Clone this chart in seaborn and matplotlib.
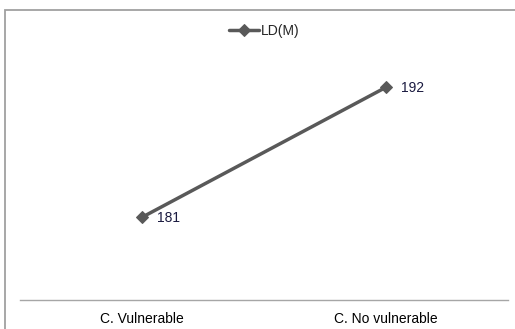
import matplotlib
matplotlib.use("Agg")
import matplotlib.pyplot as plt
import seaborn as sns
import pandas as pd
from matplotlib.patches import Rectangle

categories = ["C. Vulnerable", "C. No vulnerable"]
values = [181, 192]
series_name = "LD(M)"

sns.set_theme(style="white")
plt.rcParams['font.family'] = ['Liberation Sans', 'DejaVu Sans']

df = pd.DataFrame({"cat": categories, "val": values, "series": series_name})

fig = plt.figure(figsize=(5.15, 3.29), dpi=100)
ax = fig.add_axes([20/515, 1 - 300/329, 488/515, 260/329])

sns.lineplot(data=df, x="cat", y="val", hue="series", palette=["#595959"],
             marker="D", markersize=6, linewidth=2.5, markeredgecolor="#595959",
             ax=ax, sort=False)

ax.set_xlim(-0.5, 1.5)
ax.set_ylim(174, 196)
ax.set_xlabel("")
ax.set_ylabel("")
ax.set_yticks([])
ax.tick_params(axis="x", length=0, labelsize=10, colors="#000000", pad=8.5)
for s in ["top", "right", "left"]:
    ax.spines[s].set_visible(False)
ax.spines["bottom"].set_color("#a6a6a6")
ax.spines["bottom"].set_linewidth(1.0)

for i, v in enumerate(values):
    ax.annotate(str(v), (i, v), xytext=(11, -0.5), textcoords="offset points",
                ha="left", va="center", fontsize=10, color="#1a1a40")

leg = ax.legend(loc="center", bbox_to_anchor=(0.5, 1 + 9/260), frameon=False,
                fontsize=10, handlelength=2.2, handletextpad=0.1, borderaxespad=0)

fig.patches.append(Rectangle((5/515, -0.1), 1.2, 1 - 10/329 + 0.1, transform=fig.transFigure,
                             fill=False, edgecolor="#a0a0a0", linewidth=1.3))

fig.savefig("out.png", dpi=100, facecolor="white")
